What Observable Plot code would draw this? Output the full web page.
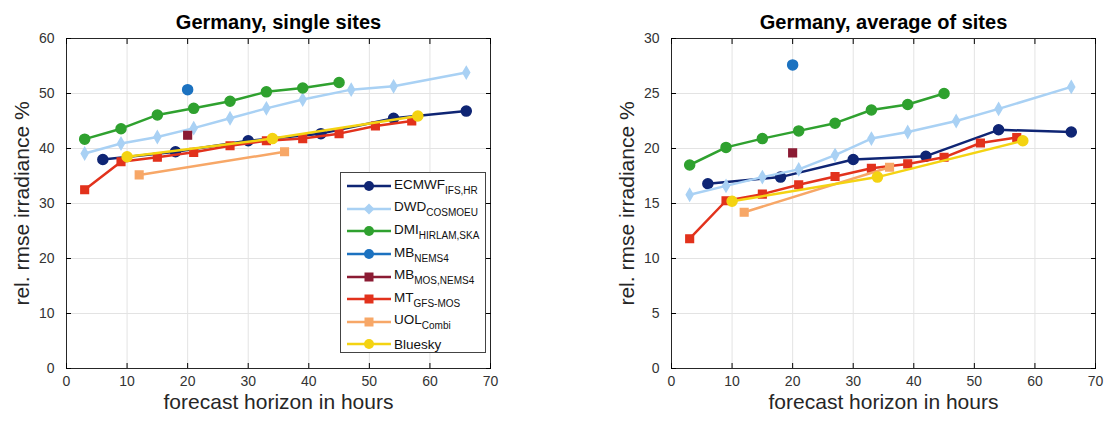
<!DOCTYPE html>
<html>
<head>
<meta charset="utf-8">
<script src="https://cdn.jsdelivr.net/npm/d3@7"></script>
<script src="https://cdn.jsdelivr.net/npm/@observablehq/plot@0.6"></script>
<style>
  body { margin: 0; background: #fff; font-family: "Liberation Sans", Arial, sans-serif; }
  #wrap { position: relative; width: 1104px; height: 425px; }
  #left, #right { position: absolute; top: 0; }
  #left { left: 0; } #right { left: 552px; }
  #legend { position: absolute; left: 340px; top: 172px; width: 146px; height: 181px;
    border: 1px solid #444; background: #fff; box-sizing: border-box; padding-top: 2px; }
  .item { height: 22.6px; display: flex; align-items: center; font-size: 13.5px; color: #111; }
  .item svg { margin-left: 6px; margin-right: 3px; flex: none; }
  .item sub { font-size: 10px; vertical-align: -5px; }
</style>
</head>
<body>
<div id="wrap">
  <div id="left"></div>
  <div id="right"></div>
  <div id="legend"></div>
</div>
<script>
// ---- categories / labels
const seriesNames = ["ECMWF", "DWD", "DMI", "MB_NEMS4", "MB_MOS", "MT", "UOL", "Bluesky"];
const legendMain = ["ECMWF", "DWD", "DMI", "MB", "MB", "MT", "UOL", "Bluesky"];
const legendSub = ["IFS,HR", "COSMOEU", "HIRLAM,SKA", "NEMS4", "MOS,NEMS4", "GFS-MOS", "Combi", ""];
const seriesColors = ["#0f2574", "#a9d1f4", "#2fa12f", "#1c72c0", "#8b1b33", "#e2321c", "#f7a767", "#f4d312"];
const seriesSymbols = ["circle", "diamond", "circle", "circle", "square", "square", "square", "circle"];
const xTicks = [0, 10, 20, 30, 40, 50, 60, 70];
const yTicksLeft = [0, 10, 20, 30, 40, 50, 60];
const yTicksRight = [0, 5, 10, 15, 20, 25, 30];
const titleLeft = "Germany, single sites";
const titleRight = "Germany, average of sites";
const xLabel = "forecast horizon in hours";
const yLabel = "rel. rmse irradiance %";

// ---- forecast horizons (hours)
const hECMWF = [6, 18, 30, 42, 54, 66];
const hDWD = [3, 9, 15, 21, 27, 33, 39, 47, 54, 66];
const hDMI = [3, 9, 15, 21, 27, 33, 39, 45];
const hMBNEMS4 = [20];
const hMBMOS = [20];
const hMT = [3, 9, 15, 21, 27, 33, 39, 45, 51, 57];
const hUOL = [12, 36];
const hBluesky = [10, 34, 58];

// ---- single sites (left)
const sECMWF = [38.0, 39.4, 41.4, 42.7, 45.5, 46.8];
const sDWD = [39.1, 40.9, 42.1, 43.7, 45.5, 47.3, 48.9, 50.7, 51.3, 53.8];
const sDMI = [41.7, 43.6, 46.1, 47.3, 48.6, 50.3, 51.0, 52.0];
const sMBNEMS4 = [50.7];
const sMBMOS = [42.4];
const sMT = [32.5, 37.6, 38.4, 39.3, 40.5, 41.4, 41.8, 42.7, 44.1, 45.0];
const sUOL = [35.2, 39.4];
const sBluesky = [38.5, 41.8, 45.9];

// ---- average of sites (right)
const aECMWF = [16.8, 17.4, 19.0, 19.3, 21.7, 21.5];
const aDWD = [15.8, 16.6, 17.4, 18.1, 19.4, 20.9, 21.5, 22.5, 23.6, 25.6];
const aDMI = [18.5, 20.1, 20.9, 21.6, 22.3, 23.5, 24.0, 25.0];
const aMBNEMS4 = [27.6];
const aMBMOS = [19.6];
const aMT = [11.8, 15.25, 15.85, 16.7, 17.45, 18.2, 18.6, 19.2, 20.5, 21.0];
const aUOL = [14.2, 18.3];
const aBluesky = [15.2, 17.4, 20.7];

const hours = [hECMWF, hDWD, hDMI, hMBNEMS4, hMBMOS, hMT, hUOL, hBluesky];
const singleVals = [sECMWF, sDWD, sDMI, sMBNEMS4, sMBMOS, sMT, sUOL, sBluesky];
const avgVals = [aECMWF, aDWD, aDMI, aMBNEMS4, aMBMOS, aMT, aUOL, aBluesky];

function tidy(vals) {
  const rows = [];
  seriesNames.forEach((s, i) => hours[i].forEach((h, j) => rows.push({series: s, h, v: vals[i][j]})));
  return rows;
}

function markerR(sym) { return sym === "circle" ? 5 : sym === "diamond" ? 3.6 : 4.3; }

function panel(vals, yMax, yTicks, title, mLeft, mRight) {
  const rows = tidy(vals);
  const marks = [
    Plot.gridX(xTicks, {stroke: "#e3e3e3", strokeOpacity: 1}),
    Plot.gridY(yTicks, {stroke: "#e3e3e3", strokeOpacity: 1}),
    Plot.frame({stroke: "#262626", strokeWidth: 1}),
    Plot.axisX(xTicks, {anchor: "bottom", tickSize: -5, tickPadding: 13, label: null, fontSize: 14, fill: "#333"}),
    Plot.axisX(xTicks, {anchor: "top", tickSize: -5, tickFormat: () => "", label: null}),
    Plot.axisY(yTicks, {anchor: "left", tickSize: -5, tickPadding: 17, label: null, fontSize: 14, fill: "#333"}),
    Plot.axisY(yTicks, {anchor: "right", tickSize: -5, tickFormat: () => "", label: null}),
  ];
  seriesNames.forEach((s, i) => {
    const d = rows.filter(r => r.series === s);
    marks.push(Plot.line(d, {x: "h", y: "v", stroke: seriesColors[i], strokeWidth: 2.5}));
    marks.push(Plot.dot(d, {x: "h", y: "v", fill: seriesColors[i], stroke: seriesColors[i],
      symbol: () => seriesSymbols[i], r: markerR(seriesSymbols[i])}));
  });
  marks.push(Plot.text([title], {frameAnchor: "top", dy: -24, fontSize: 20, fontWeight: "bold", fill: "#000"}));
  marks.push(Plot.text([xLabel], {frameAnchor: "bottom", dy: 40, fontSize: 21, fill: "#262626"}));
  marks.push(Plot.text([yLabel], {frameAnchor: "left", textAnchor: "middle", dx: -44, rotate: -90, fontSize: 21, fill: "#262626"}));
  return Plot.plot({
    width: 552, height: 425,
    marginLeft: mLeft, marginRight: mRight, marginTop: 38, marginBottom: 57,
    x: {domain: [0, 70]},
    y: {domain: [0, yMax]},
    symbol: {type: "identity"},
    style: {fontFamily: "'Liberation Sans', Arial, sans-serif", background: "transparent", overflow: "visible"},
    marks
  });
}

document.getElementById("left").append(panel(singleVals, 60, yTicksLeft, titleLeft, 66, 62));
document.getElementById("right").append(panel(avgVals, 30, yTicksRight, titleRight, 119, 9));

// legend
const legend = document.getElementById("legend");
seriesNames.forEach((s, i) => {
  const div = document.createElement("div");
  div.className = "item";
  const c = seriesColors[i];
  let marker;
  if (seriesSymbols[i] === "square") marker = `<rect x="17.5" y="2.5" width="9" height="9" fill="${c}"/>`;
  else if (seriesSymbols[i] === "diamond") marker = `<path d="M22,1.5 L27.5,7 L22,12.5 L16.5,7Z" fill="${c}"/>`;
  else marker = `<circle cx="22" cy="7" r="5" fill="${c}"/>`;
  div.innerHTML = `<svg width="44" height="14"><line x1="0" y1="7" x2="44" y2="7" stroke="${c}" stroke-width="2.5"/>${marker}</svg>` +
    `<span>${legendMain[i]}${legendSub[i] ? `<sub>${legendSub[i]}</sub>` : ""}</span>`;
  legend.append(div);
});
</script>
</body>
</html>
